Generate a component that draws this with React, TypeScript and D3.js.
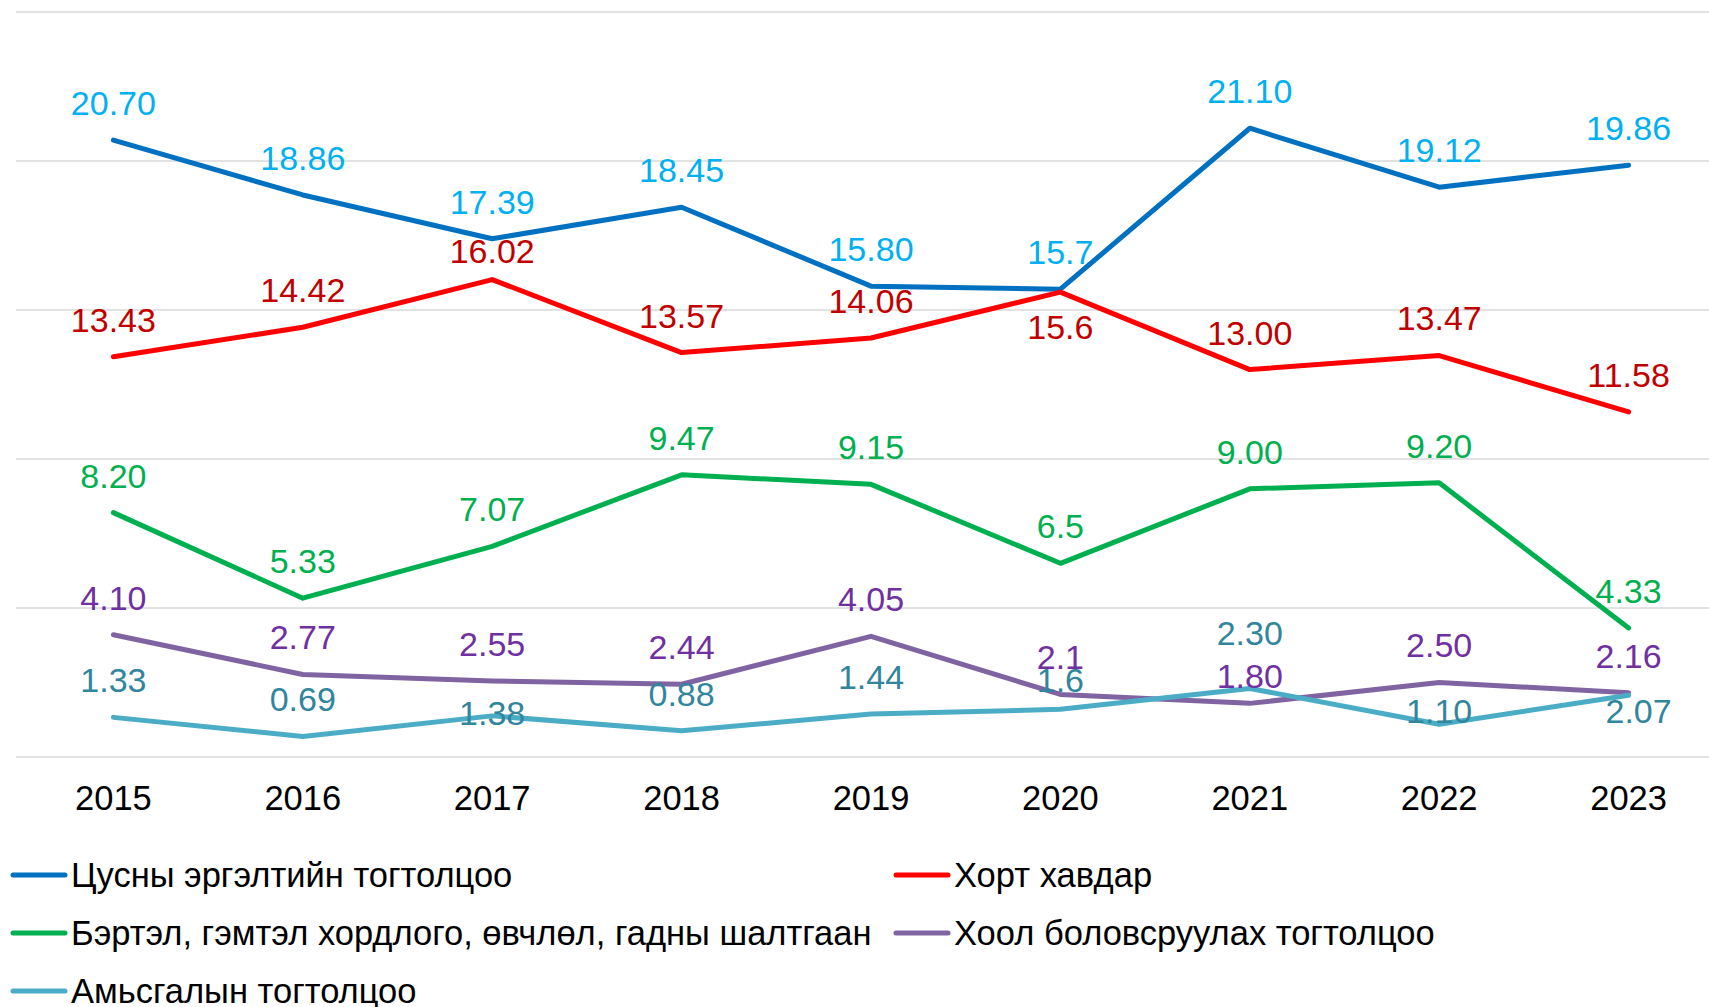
import React from "react";
import * as d3 from "d3";

const years = ["2015", "2016", "2017", "2018", "2019", "2020", "2021", "2022", "2023"];
const circulatory = [20.7, 18.86, 17.39, 18.45, 15.8, 15.7, 21.1, 19.12, 19.86];
const cancer = [13.43, 14.42, 16.02, 13.57, 14.06, 15.6, 13.0, 13.47, 11.58];
const injury = [8.2, 5.33, 7.07, 9.47, 9.15, 6.5, 9.0, 9.2, 4.33];
const digestive = [4.1, 2.77, 2.55, 2.44, 4.05, 2.1, 1.8, 2.5, 2.16];
const respiratory = [1.33, 0.69, 1.38, 0.88, 1.44, 1.6, 2.3, 1.1, 2.07];
const circulatoryLabels = ["20.70", "18.86", "17.39", "18.45", "15.80", "15.7", "21.10", "19.12", "19.86"];
const cancerLabels = ["13.43", "14.42", "16.02", "13.57", "14.06", "15.6", "13.00", "13.47", "11.58"];
const injuryLabels = ["8.20", "5.33", "7.07", "9.47", "9.15", "6.5", "9.00", "9.20", "4.33"];
const digestiveLabels = ["4.10", "2.77", "2.55", "2.44", "4.05", "2.1", "1.80", "2.50", "2.16"];
const respiratoryLabels = ["1.33", "0.69", "1.38", "0.88", "1.44", "1.6", "2.30", "1.10", "2.07"];
const yTicks = [0, 5, 10, 15, 20, 25];

const seriesNames = [
  "Цусны эргэлтийн тогтолцоо",
  "Хорт хавдар",
  "Бэртэл, гэмтэл хордлого, өвчлөл, гадны шалтгаан",
  "Хоол боловсруулах тогтолцоо",
  "Амьсгалын тогтолцоо",
];

// styles / placement (not data)
const lineColors = ["#0070C0", "#FF0000", "#00B050", "#8064A2", "#4BACC6"];
const labelColors = ["#00B0F0", "#C00000", "#00B050", "#7030A0", "#31859C"];
const D = -37;
const labelDy = [
  [D, D, D, D, D, D, D, D, D],
  [D, D, -29, D, D, 35, D, D, D],
  [D, D, D, D, D, D, D, D, D],
  [D, D, D, D, D, D, -27, D, D],
  [D, D, -3, D, D, -29, -55, -13, 16],
];
const labelDx = [
  [0, 0, 0, 0, 0, 0, 0, 0, 0],
  [0, 0, 0, 0, 0, 0, 0, 0, 0],
  [0, 0, 0, 0, 0, 0, 0, 0, 0],
  [0, 0, 0, 0, 0, 0, 0, 0, 0],
  [0, 0, 0, 0, 0, 0, 0, 0, 10],
];
const legendPos = [
  { x: 13, y: 875 },
  { x: 896, y: 875 },
  { x: 13, y: 933 },
  { x: 896, y: 933 },
  { x: 13, y: 991 },
];

const W = 1709;
const H = 1007;
const FONT = "'Liberation Sans', Arial, sans-serif";

export default function App() {
  const x = d3.scalePoint<string>().domain(years).range([113.4, 1628.6]);
  const y = d3.scaleLinear().domain([0, 25]).range([757, 12]);
  const all = [circulatory, cancer, injury, digestive, respiratory];
  const labels = [circulatoryLabels, cancerLabels, injuryLabels, digestiveLabels, respiratoryLabels];
  const line = d3
    .line<number>()
    .x((_, i) => x(years[i]) as number)
    .y((d) => y(d));

  return (
    <div style={{ position: "absolute", left: 0, top: 0 }}>
      <svg width={W} height={H} style={{ display: "block", background: "#fff" }} fontFamily={FONT}>
        {yTicks.map((t) => (
          <line key={t} x1={16} x2={W} y1={y(t)} y2={y(t)} stroke="#D9D9D9" strokeWidth={1.5} />
        ))}
        {years.map((yr) => (
          <text key={yr} x={x(yr)} y={810} textAnchor="middle" fontSize={34.5} fill="#000">
            {yr}
          </text>
        ))}
        {all.map((s, si) => (
          <path
            key={si}
            d={line(s) || ""}
            fill="none"
            stroke={lineColors[si]}
            strokeWidth={5}
            strokeLinejoin="round"
            strokeLinecap="round"
          />
        ))}
        {all.map((s, si) =>
          s.map((v, i) => (
            <text
              key={si + "-" + i}
              x={(x(years[i]) as number) + labelDx[si][i]}
              y={y(v) + labelDy[si][i]}
              dy="0.35em"
              textAnchor="middle"
              fontSize={34}
              fill={labelColors[si]}
            >
              {labels[si][i]}
            </text>
          ))
        )}
        {seriesNames.map((n, si) => (
          <g key={n} transform={`translate(${legendPos[si].x},${legendPos[si].y})`}>
            <line x1={0} x2={52} y1={0} y2={0} stroke={lineColors[si]} strokeWidth={5} strokeLinecap="round" />
            <text x={58} y={0} dy="0.35em" fontSize={34.5} fill="#000">
              {n}
            </text>
          </g>
        ))}
      </svg>
    </div>
  );
}
